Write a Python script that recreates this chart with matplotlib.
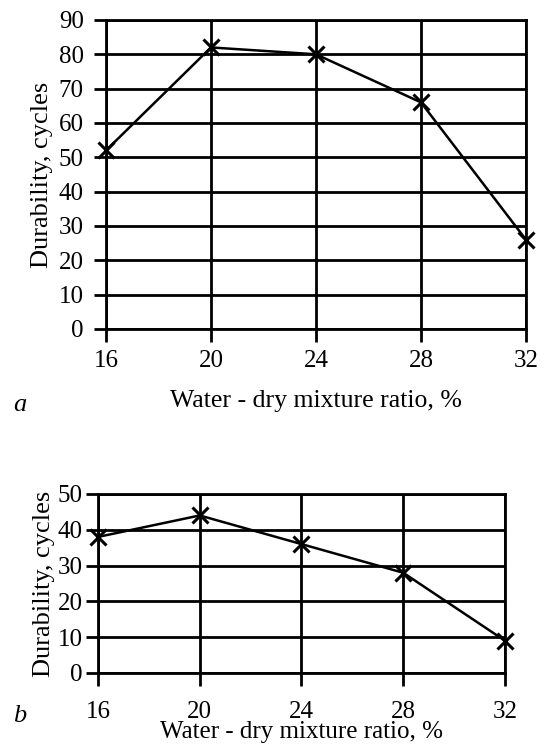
import matplotlib.pyplot as plt

ratio = [16, 20, 24, 28, 32]
durability_a = [52, 82, 80, 66, 26]
durability_b = [38, 44, 36, 28, 9]

plt.rcParams['font.family'] = ['Liberation Serif', 'DejaVu Serif']

fig = plt.figure(figsize=(5.48, 7.48), dpi=100)


def draw(ax, y, ymax, xpad, ypad, lpad):
    ax.plot(ratio, y, color='black', lw=1.8, marker='x', ms=11, mew=2.2, clip_on=False)
    ax.set_xlim(16, 32)
    ax.set_ylim(0, ymax)
    ax.set_xticks(ratio)
    ax.set_yticks(range(0, ymax + 1, 10))
    ax.grid(True, color='black', lw=2)
    for s in ax.spines.values():
        s.set_linewidth(2)
    ax.tick_params(direction='out', length=9, width=2, colors='black', labelsize=18)
    ax.tick_params(axis='x', pad=xpad)
    ax.tick_params(axis='y', pad=ypad)
    ax.set_ylabel('Durability, cycles', fontsize=19, labelpad=lpad)
    ax.set_axisbelow(True)


ax1 = fig.add_axes([0.1934, 0.5602, 0.7664, 0.4131])
draw(ax1, durability_a, 90, 6, 7, 4)
ax1.set_xlabel('Water - dry mixture ratio, %', fontsize=18.5, labelpad=13)
fig.text(0.036, 0.458, 'a', fontsize=19, style='italic', ha='center', va='center')

ax2 = fig.add_axes([0.1788, 0.1003, 0.7427, 0.2393])
draw(ax2, durability_b, 50, 11, 2, 2)
ax2.set_xlabel('Water - dry mixture ratio, %', fontsize=18, labelpad=-1)
fig.text(0.036, 0.043, 'b', fontsize=19, style='italic', ha='center', va='center')

fig.savefig('out.png', dpi=100)
